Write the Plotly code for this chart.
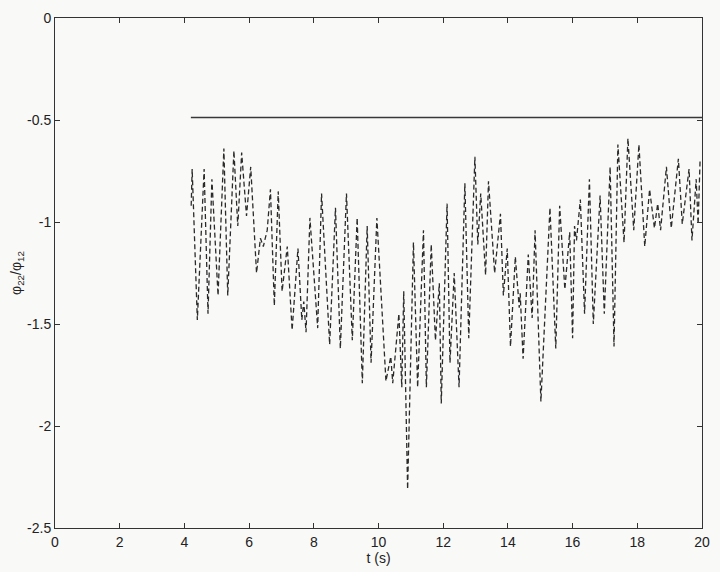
import plotly.graph_objects as go

# Ratio signal phi22/phi12 versus time (turning points of the dashed trace)
t_ratio = [
    4.21, 4.24, 4.40, 4.61, 4.73, 4.85, 5.04, 5.22, 5.34, 5.53,
    5.65, 5.77, 5.92, 6.05, 6.23, 6.35, 6.44, 6.56, 6.66, 6.78,
    6.90, 7.02, 7.18, 7.33, 7.51, 7.63, 7.69, 7.76, 7.88, 8.12,
    8.24, 8.49, 8.67, 8.82, 9.01, 9.19, 9.34, 9.50, 9.65, 9.77,
    9.95, 10.23, 10.38, 10.44, 10.63, 10.72, 10.78, 10.90, 11.08, 11.21,
    11.39, 11.48, 11.63, 11.76, 11.88, 11.94, 12.12, 12.21, 12.34, 12.49,
    12.67, 12.79, 12.98, 13.07, 13.16, 13.31, 13.40, 13.59, 13.77, 13.86,
    13.98, 14.08, 14.23, 14.35, 14.38, 14.47, 14.63, 14.75, 14.84, 15.02,
    15.30, 15.48, 15.60, 15.76, 15.91, 16.00, 16.06, 16.12, 16.24, 16.37,
    16.52, 16.64, 16.85, 16.98, 17.16, 17.28, 17.40, 17.59, 17.71, 17.89,
    18.05, 18.23, 18.38, 18.53, 18.63, 18.72, 18.90, 19.05, 19.27, 19.39,
    19.60, 19.69, 19.82, 19.88, 19.94,
]
ratio = [
    -0.92, -0.74, -1.48, -0.74, -1.45, -0.79, -1.36, -0.64, -1.36, -0.65,
    -1.02, -0.66, -0.97, -0.73, -1.25, -1.08, -1.12, -1.04, -0.84, -1.41,
    -0.85, -1.34, -1.12, -1.53, -1.13, -1.48, -1.39, -1.54, -0.98, -1.52,
    -0.86, -1.60, -0.93, -1.62, -0.86, -1.58, -0.98, -1.79, -1.02, -1.69,
    -0.98, -1.78, -1.66, -1.79, -1.45, -1.81, -1.34, -2.31, -1.10, -1.81,
    -1.04, -1.81, -1.11, -1.58, -1.30, -1.89, -0.91, -1.69, -1.25, -1.81,
    -0.81, -1.57, -0.68, -1.11, -0.86, -1.26, -0.80, -1.25, -0.96, -1.36,
    -1.13, -1.61, -1.17, -1.42, -1.35, -1.67, -1.16, -1.47, -1.04, -1.88,
    -0.93, -1.62, -0.92, -1.33, -1.05, -1.57, -1.02, -1.09, -0.89, -1.45,
    -0.79, -1.50, -0.87, -1.45, -0.73, -1.61, -0.62, -1.10, -0.59, -1.04,
    -0.62, -1.12, -0.84, -1.03, -0.91, -1.04, -0.73, -1.03, -0.69, -1.01,
    -0.74, -1.09, -0.79, -1.01, -0.70,
]

# Reference level (solid line)
t_ref = [4.2, 20.0]
ref_level = [-0.488, -0.488]

x_ticks = [0, 2, 4, 6, 8, 10, 12, 14, 16, 18, 20]
y_ticks = [0, -0.5, -1, -1.5, -2, -2.5]
y_tick_text = ["0", "-0.5", "-1", "-1.5", "-2", "-2.5"]

ink = "#333333"
font = dict(family="Liberation Sans, Arial, sans-serif", size=14, color="#222222")

fig = go.Figure()
fig.add_trace(go.Scatter(
    x=t_ref, y=ref_level, mode="lines",
    line=dict(color="#383838", width=1.6),
    showlegend=False, hoverinfo="skip",
))
fig.add_trace(go.Scatter(
    x=t_ratio, y=ratio, mode="lines",
    line=dict(color="#2a2a2a", width=1.3, dash="5px,3px"),
    showlegend=False,
))

axis_common = dict(
    showgrid=False, zeroline=False, showline=True, linecolor=ink, linewidth=1,
    mirror="ticks", ticks="inside", ticklen=5, tickcolor=ink, tickwidth=1,
    tickfont=font,
)

fig.update_layout(
    width=720, height=572,
    margin=dict(l=55, r=10, t=16, b=44),
    paper_bgcolor="#f9f9f8", plot_bgcolor="#f9f9f8",
    font=font,
    xaxis=dict(
        range=[0, 20], tickvals=x_ticks, ticklabelstandoff=1,
        title=dict(text="t (s)", font=font, standoff=2),
        **axis_common,
    ),
    yaxis=dict(
        range=[-2.5, 0], tickvals=y_ticks, ticktext=y_tick_text,
        title=dict(text="φ<sub>22</sub>/φ<sub>12</sub>", font=font, standoff=2),
        **axis_common,
    ),
)

fig.write_html("out.html")
